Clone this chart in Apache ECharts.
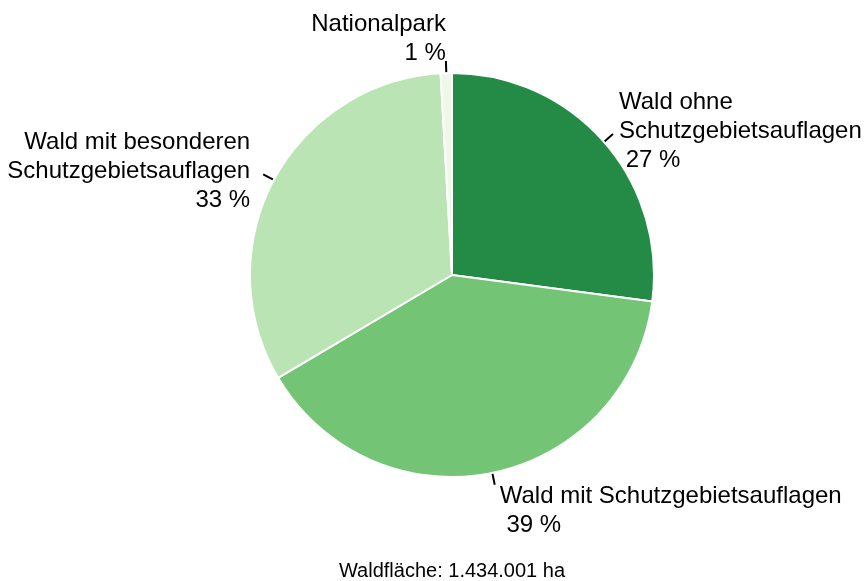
<!DOCTYPE html>
<html>
<head>
<meta charset="utf-8">
<script src="https://cdn.jsdelivr.net/npm/echarts@6/dist/echarts.min.js"></script>
<style>html,body{margin:0;padding:0;background:#fff}#c{width:867px;height:581px}</style>
</head>
<body>
<div id="c"></div>
<script>
const categories = [
  "Wald ohne\nSchutzgebietsauflagen",
  "Wald mit Schutzgebietsauflagen",
  "Wald mit besonderen\nSchutzgebietsauflagen",
  "Nationalpark"
];
const shares = [27.1, 39.4, 32.6, 0.9];
const colors = ["#238b45", "#74c476", "#bae4b3", "#edf8e9"];
const caption = "Waldfläche: 1.434.001 ha";

// per-label text placement tweaks
const labelDistances = [6, 5, 13, 0];
const labelShiftY = [-3, 26, -2.5, -22];

const chart = echarts.init(document.getElementById('c'), null, { renderer: 'canvas' });
const font = '"Liberation Sans", Arial, Helvetica, sans-serif';

chart.setOption({
  animation: false,
  backgroundColor: '#ffffff',
  title: {
    text: caption,
    left: 452,
    top: 561,
    textAlign: 'center',
    padding: 0,
    textStyle: { fontFamily: font, fontSize: 20, fontWeight: 'normal', color: '#000' }
  },
  series: [{
    type: 'pie',
    center: [452, 275],
    radius: 202,
    startAngle: 90,
    clockwise: true,
    avoidLabelOverlap: false,
    itemStyle: { borderColor: '#ffffff', borderWidth: 2 },
    label: {
      show: true,
      position: 'outside',
      fontFamily: font,
      fontSize: 24,
      lineHeight: 29,
      color: '#000',
      formatter: p => p.name + '\n ' + Math.round(p.percent) + ' %'
    },
    labelLine: {
      show: true,
      length: 12,
      length2: 0,
      lineStyle: { color: '#000', width: 2 }
    },
    labelLayout: p => ({ dy: labelShiftY[p.dataIndex] }),
    data: categories.map((c, i) => ({
      name: c,
      value: shares[i],
      itemStyle: { color: colors[i] },
      label: { distanceToLabelLine: labelDistances[i] }
    }))
  }]
});
</script>
</body>
</html>
